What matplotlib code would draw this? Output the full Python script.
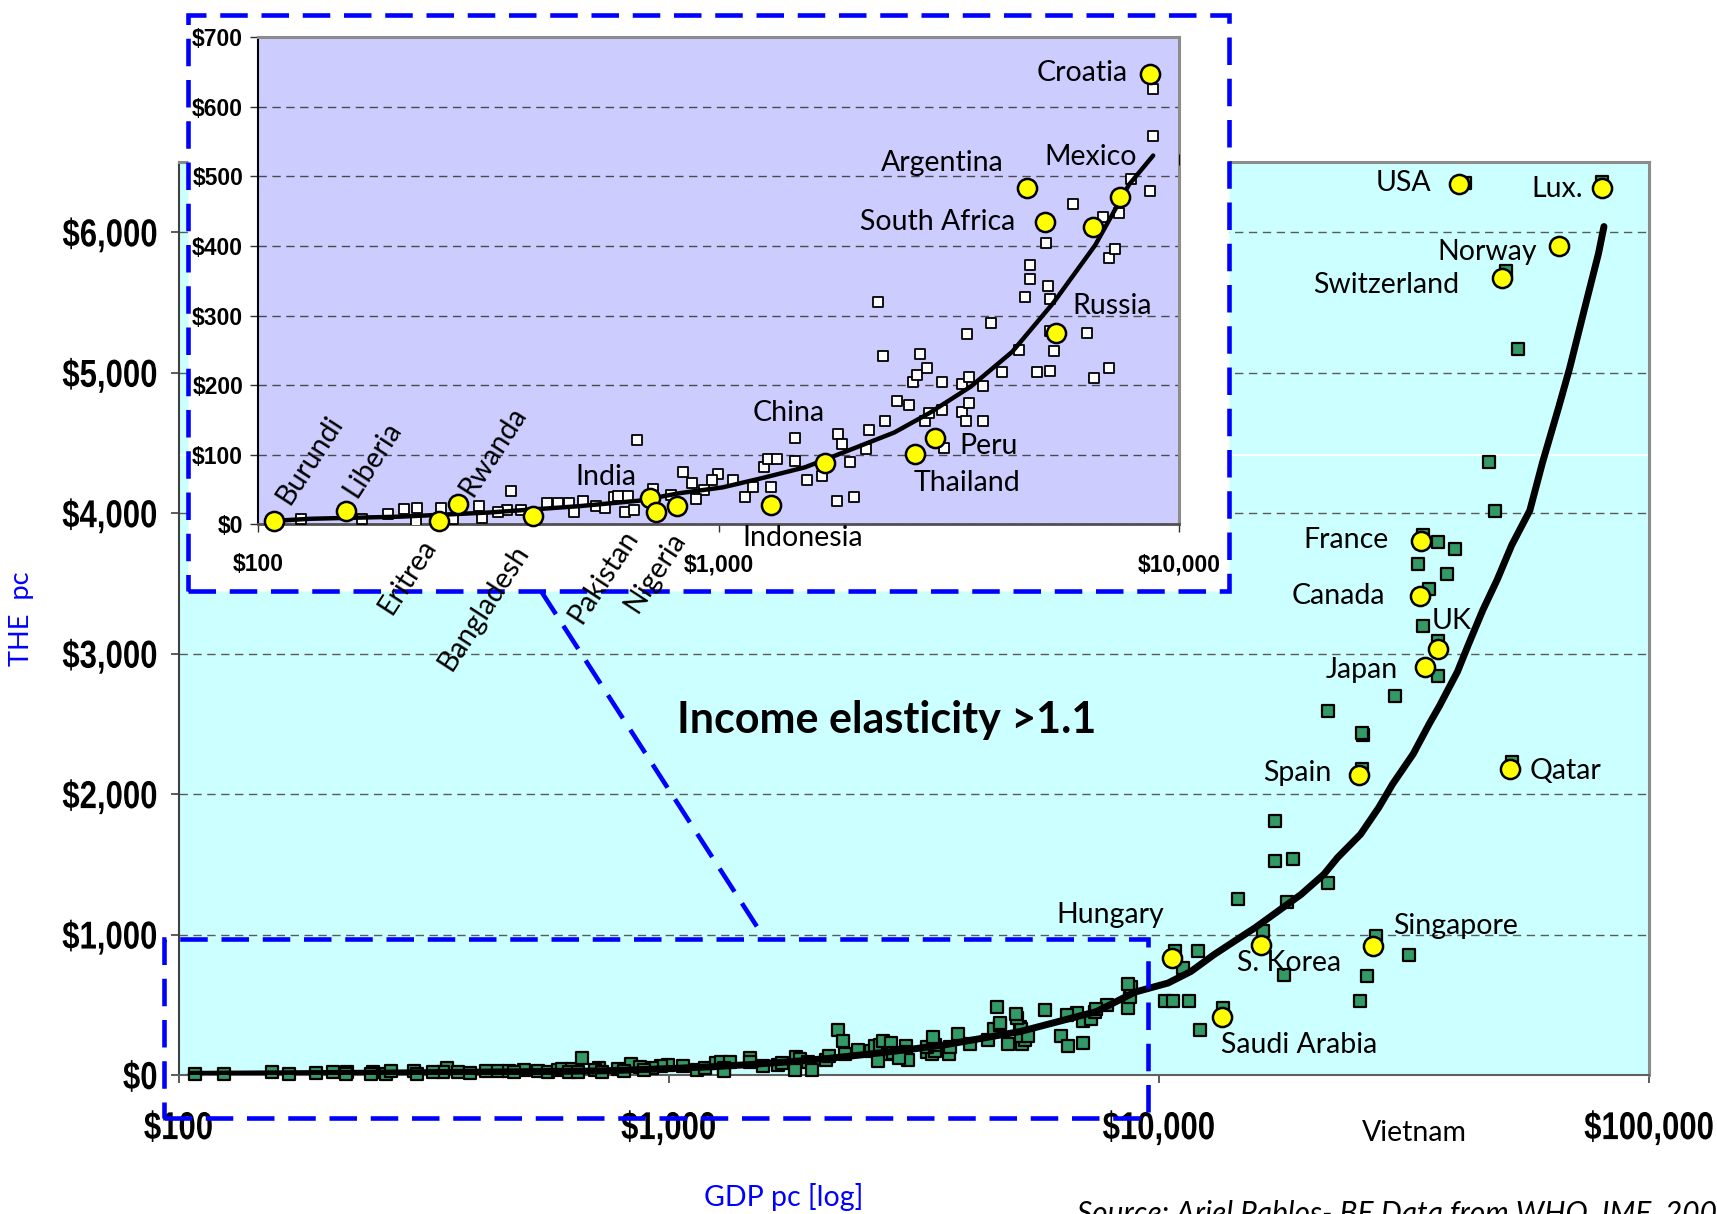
import matplotlib
matplotlib.use("Agg")
import matplotlib.pyplot as plt
import matplotlib.font_manager as fm
from matplotlib.patches import Rectangle
from matplotlib.lines import Line2D
from matplotlib.ticker import NullLocator
from matplotlib.patheffects import AbstractPathEffect
from matplotlib.transforms import Affine2D


def pick(*names):
    for n in names:
        try:
            fm.findfont(fm.FontProperties(family=n), fallback_to_default=False)
            return n
        except Exception:
            pass
    return "DejaVu Sans"


ARIAL = pick("Liberation Sans", "DejaVu Sans")
LABEL = pick("Lato", "Open Sans", "DejaVu Sans")


class Squeeze(AbstractPathEffect):
    """Horizontally condense a text path around one of its edges."""

    def __init__(self, sx, anchor="center"):
        super().__init__()
        self.sx = sx
        self.anchor = anchor

    def draw_path(self, renderer, gc, tpath, affine, rgbFace=None):
        ext = tpath.get_extents()
        if self.anchor == "right":
            x0 = ext.x1
        elif self.anchor == "left":
            x0 = ext.x0
        else:
            x0 = 0.5 * (ext.x0 + ext.x1)
        t = Affine2D().translate(-x0, 0).scale(self.sx, 1).translate(x0, 0)
        renderer.draw_path(gc, tpath, t + affine, rgbFace)


# ---------------------------------------------------------------------------
# Data: GDP per capita (US$) and total health expenditure per capita (US$)
# ---------------------------------------------------------------------------
gdp_pc = [
    124, 168, 191, 207, 221, 220, 249, 265, 302, 306, 353, 347, 331, 371, 424,
    448, 473, 506, 484, 541, 566, 593, 605, 636, 626, 654, 665, 721, 788, 836,
    875, 996, 965, 926, 892, 1071, 1140, 1188, 1251, 1277, 1336, 1298, 1462,
    1462, 1555, 1671, 1816, 1854, 1924, 1808, 1964, 2090, 2122, 2292, 2213,
    2272, 2438, 2583, 2637, 2692, 2733, 2836, 3048, 2796, 2865, 3048, 3080,
    3368, 3437, 3488, 3737, 3368, 3488, 3750, 3452, 3893, 4118, 4477, 4617,
    4731, 4731, 5195, 5225, 5141, 4911, 5245, 5334, 5225, 5863, 6300, 6525,
    7015, 6817, 7015, 7252, 7404, 7838, 8654, 8744, 8770,
    10300, 10700, 11500, 10780, 12010, 11180, 12140, 13510, 14480, 16330,
    17280, 17280, 18750, 18230, 17990, 22080, 22150, 25940, 26120, 30290,
    25940, 52440, 27670, 32300, 26620, 25660, 42040, 80000, 51100, 54080,
    47190, 48570, 34560, 37130, 40150, 33710, 38610, 35590, 34560, 37010,
    37130,
]
the_pc = [
    8, 7, 15, 22, 23, 4, 23, 8, 27, 9, 48, 20, 18, 20, 31,
    31, 31, 34, 18, 26, 23, 39, 41, 40, 18, 20, 121, 51, 42, 75,
    59, 72, 64, 50, 37, 64, 39, 53, 83, 94, 94, 53, 124,
    91, 64, 70, 130, 116, 89, 34, 39, 108, 135, 149, 319,
    242, 177, 172, 204, 215, 245, 225, 205, 149, 160, 165, 110,
    161, 149, 174, 149, 201, 212, 199, 273, 290, 219, 250, 327,
    353, 372, 343, 324, 405, 219, 221, 249, 278, 460, 275, 210,
    225, 442, 383, 396, 447, 497, 479, 558, 625,
    524, 524, 524, 881, 881, 762, 321, 476, 1255, 1024,
    1805, 1524, 1540, 1233, 714, 1364, 2595, 2179, 2421, 2700,
    2433, 2226, 988, 857, 702, 524, 6350, 6355, 5727, 5167,
    4366, 4014, 3842, 3792, 3746, 3637, 3568, 3459, 3194, 3090,
    2839,
]

# Highlighted low / middle income countries (close-up)
low_names = ["Burundi", "Liberia", "Eritrea", "Rwanda", "Bangladesh", "India",
             "Pakistan", "Nigeria", "Indonesia", "China", "Thailand", "Peru",
             "Argentina", "South Africa", "Russia", "Brazil", "Mexico", "Croatia"]
low_gdp = [108, 155, 247, 271, 394, 708, 731, 809, 1296, 1700, 2666, 2944,
           4666, 5098, 5400, 6498, 7430, 8630]
low_the = [5, 19, 5, 29, 12, 38, 18, 26, 28, 88, 101, 124,
           484, 435, 275, 427, 471, 647]

# Highlighted high income countries (main panel)
high_names = ["Hungary", "Saudi Arabia", "S. Korea", "Singapore", "Spain",
              "Qatar", "Japan", "UK", "Canada", "France", "Switzerland",
              "Norway", "USA", "Lux."]
high_gdp = [10620, 13430, 16160, 27320, 25610, 52100, 34860, 37010, 34000,
            34270, 50080, 65400, 40970, 80170]
high_the = [833, 410, 929, 917, 2138, 2179, 2904, 3030, 3413, 3801, 5672,
            5899, 6347, 6314]

# Trend curve traced along the full range
trend_gdp = [106, 150, 250, 400, 600, 726, 870, 1040, 1244, 1488, 1780, 2129,
             2547, 3048, 3648, 4365, 5218, 6240, 7460, 8930, 10440, 11630,
             12950, 14420, 15700, 17500, 19500, 21700, 23140, 25780, 28090,
             29960, 33010, 35590, 37320, 40640, 42760, 45760, 48980, 52440,
             57080, 60590, 65400, 68800, 73620, 78830, 80860]
trend_the = [5, 8, 13, 20, 26, 29, 38, 48, 60, 76, 95, 119,
             148, 179, 214, 262, 310, 381, 452, 590, 655, 738,
             857, 964, 1048, 1167, 1286, 1429, 1548, 1714, 1905,
             2071, 2286, 2500, 2626, 2872, 3063, 3309, 3527, 3773,
             4019, 4361, 4757, 5030, 5440, 5850, 6041]

# Trend curve in the low-income close-up
inset_trend_gdp = [108, 130, 203, 317, 495, 671, 826, 1017, 1251, 1539, 1892,
                   2404, 2866, 3524, 4335, 5334, 6560, 7769, 8770]
inset_trend_the = [5, 8, 11, 17, 26, 34, 45, 53, 67, 82, 105,
                   132, 160, 198, 248, 319, 401, 488, 530]

main_yticks = [0, 1000, 2000, 3000, 4000, 5000, 6000]
main_ylabels = ["$0", "$1,000", "$2,000", "$3,000", "$4,000", "$5,000", "$6,000"]
main_xticks = [100, 1000, 10000, 100000]
main_xlabels = ["$100", "$1,000", "$10,000", "$100,000"]
inset_yticks = [0, 100, 200, 300, 400, 500, 600, 700]
inset_ylabels = ["$0", "$100", "$200", "$300", "$400", "$500", "$600", "$700"]
inset_xticks = [100, 1000, 10000]
inset_xlabels = ["$100", "$1,000", "$10,000"]

GREEN = "#339966"
YELLOW = "#FFFF00"
BLUE = "#0000FF"
DASH = (0, (6, 3))
LS = 20.5

fig = plt.figure(figsize=(17.17, 12.14), dpi=100)

# ---------------------------------------------------------------- main panel
ax = fig.add_axes([0.104, 0.1145, 0.8565, 0.752], zorder=0)
ax.set_facecolor("#CCFFFF")
ax.set_xscale("log")
ax.set_xlim(100, 100000)
ax.set_ylim(0, 6500)
ax.set_axisbelow(True)
ax.yaxis.grid(True, linestyle=(0, (6, 4)), color="#5a5a5a", lw=1.0)
ax.axhline(4415, color="white", lw=1.3, zorder=0.5)

ax.set_xticks(main_xticks)
ax.set_xticklabels(main_xlabels)
ax.xaxis.set_minor_locator(NullLocator())
ax.set_yticks(main_yticks)
ax.set_yticklabels(main_ylabels)
ax.tick_params(direction="out", length=6, width=1.2, color="#404040")
ax.tick_params(axis="x", pad=20)
ax.tick_params(axis="y", pad=9)
for lab in ax.get_xticklabels():
    lab.set_fontfamily(ARIAL)
    lab.set_fontweight("bold")
    lab.set_fontsize(28)
    lab.set_path_effects([Squeeze(0.80, "center")])
for lab in ax.get_yticklabels():
    lab.set_fontfamily(ARIAL)
    lab.set_fontweight("bold")
    lab.set_fontsize(28)
    lab.set_path_effects([Squeeze(0.80, "right")])
for side in ("top", "right"):
    ax.spines[side].set_color("#8c8c8c")
    ax.spines[side].set_linewidth(2.2)
ax.spines["left"].set_color("#404040")
ax.spines["left"].set_linewidth(1.5)
ax.spines["bottom"].set_color("#606060")
ax.spines["bottom"].set_linewidth(1.5)

ax.scatter(gdp_pc + low_gdp, the_pc + low_the, marker="s", s=72,
           facecolor=GREEN, edgecolor="black", linewidth=1.6, zorder=3,
           clip_on=False)
ax.plot(trend_gdp, trend_the, color="black", lw=5.0, zorder=4,
        solid_capstyle="round", solid_joinstyle="round")
ax.scatter(high_gdp, high_the, marker="o", s=190, facecolor=YELLOW,
           edgecolor="black", linewidth=1.8, zorder=5)

main_label_pos = {
    "USA": (31590, 6349), "Lux.": (64860, 6310), "Norway": (46660, 5858),
    "Switzerland": (29090, 5624), "France": (24040, 3807),
    "Canada": (23200, 3409), "UK": (39600, 3229), "Japan": (25980, 2886),
    "Spain": (19180, 2153), "Qatar": (67600, 2161), "Hungary": (7960, 1139),
    "Singapore": (40220, 1061), "S. Korea": (18400, 796),
    "Saudi Arabia": (19360, 211),
}
for name in high_names:
    x, y = main_label_pos[name]
    ax.text(x, y, name, fontsize=LS, family=LABEL, ha="center", va="center",
            zorder=6)
ax.text(2786, 2527, "Income elasticity >1.1", fontsize=31, family=LABEL,
        fontweight="bold", ha="center", va="center", zorder=6)

# ----------------------------------------------------- close-up frame & panel
frame = Rectangle((0.1097, 0.5131), 0.6059, 0.4743, transform=fig.transFigure,
                  facecolor="white", edgecolor=BLUE, lw=3.3, linestyle=DASH,
                  zorder=1)
fig.add_artist(frame)

axi = fig.add_axes([0.1505, 0.5681, 0.5364, 0.4012], zorder=2)
axi.set_facecolor("#CCCCFF")
axi.set_xscale("log")
axi.set_xlim(100, 10000)
axi.set_ylim(0, 700)
axi.set_axisbelow(True)
axi.yaxis.grid(True, linestyle=(0, (6, 4)), color="#4a4a4a", lw=1.0)
axi.set_xticks(inset_xticks)
axi.set_xticklabels(inset_xlabels)
axi.xaxis.set_minor_locator(NullLocator())
axi.set_yticks(inset_yticks)
axi.set_yticklabels(inset_ylabels)
axi.tick_params(direction="out", length=6, width=1.0, color="#303030")
axi.tick_params(axis="x", pad=15)
axi.tick_params(axis="y", pad=5)
for lab in axi.get_xticklabels() + axi.get_yticklabels():
    lab.set_fontfamily(ARIAL)
    lab.set_fontweight("bold")
    lab.set_fontsize(16.5)
for side in ("top", "right"):
    axi.spines[side].set_color("#8c8c8c")
    axi.spines[side].set_linewidth(2.2)
axi.spines["left"].set_color("black")
axi.spines["left"].set_linewidth(1.5)
axi.spines["bottom"].set_color("#505050")
axi.spines["bottom"].set_linewidth(2.0)

axi.scatter(gdp_pc, the_pc, marker="s", s=62, facecolor="white",
            edgecolor="black", linewidth=1.3, zorder=3)
axi.plot(inset_trend_gdp, inset_trend_the, color="black", lw=3.2, zorder=4,
         solid_capstyle="round")
axi.scatter(low_gdp, low_the, marker="o", s=190, facecolor=YELLOW,
            edgecolor="black", linewidth=1.8, zorder=5, clip_on=False)

inset_label_pos = {
    "Croatia": (6138, 649, 0), "Argentina": (3062, 519, 0),
    "Mexico": (6412, 528, 0), "South Africa": (2978, 435, 0),
    "Russia": (7161, 314, 0), "Peru": (3855, 113, 0),
    "Thailand": (3455, 60, 0), "China": (1416, 160, 0),
    "India": (567, 68, 0), "Indonesia": (1521, -19, 0),
    "Burundi": (129, 93, 57), "Liberia": (177, 93, 57),
    "Rwanda": (323, 104, 57), "Eritrea": (211, -75, 57),
    "Bangladesh": (309, -120, 57), "Pakistan": (561, -75, 57),
    "Nigeria": (726, -69, 57),
}
for name in low_names:
    if name not in inset_label_pos:
        continue
    x, y, rot = inset_label_pos[name]
    axi.text(x, y, name, fontsize=LS, family=LABEL, ha="center", va="center",
             rotation=rot, rotation_mode="anchor", clip_on=False, zorder=6)

# zoom box on the main panel and its connector to the close-up
zoom_box = Rectangle((0.0957, 0.0794), 0.5727, 0.1469, transform=fig.transFigure,
                     facecolor="none", edgecolor=BLUE, lw=3.3, linestyle=DASH,
                     zorder=3)
fig.add_artist(zoom_box)
fig.add_artist(Line2D([0.3151, 0.4452], [0.5131, 0.2272], transform=fig.transFigure,
                      color=BLUE, lw=3.3, linestyle=DASH, zorder=3))

# ------------------------------------------------------------- axis captions
fig.text(0.0128, 0.4905, "THE  pc", rotation=90, color=BLUE, fontsize=19.5,
         family=LABEL, ha="center", va="center")
fig.text(0.4566, 0.0144, "GDP pc [log]", color=BLUE, fontsize=20.5,
         family=LABEL, ha="center", va="center")
fig.text(0.824, 0.0667, "Vietnam", fontsize=LS, family=LABEL, ha="center",
         va="center")
fig.text(0.627, -0.007, "Source: Ariel Pablos- BE Data from WHO, IMF, 200",
         fontsize=21.5, family=LABEL, style="italic", ha="left", va="baseline")

fig.savefig("out.png", dpi=100)
